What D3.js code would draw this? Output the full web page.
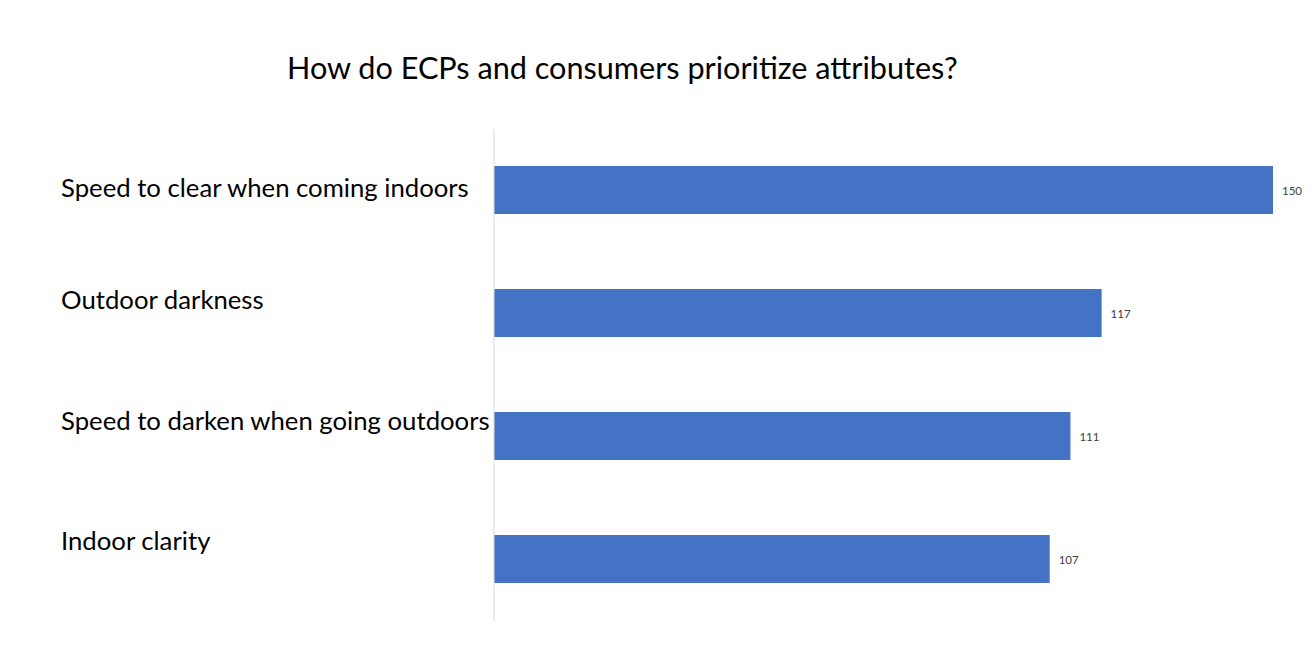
<!DOCTYPE html>
<html>
<head>
<meta charset="utf-8">
<script src="https://cdn.jsdelivr.net/npm/d3@7"></script>
<style>
  html, body { margin: 0; padding: 0; background: #ffffff; }
  svg { display: block; }
  text { font-family: Lato, "Open Sans", sans-serif; }
</style>
</head>
<body>
<svg id="chart" width="1314" height="650"></svg>
<script>
const titleText = "How do ECPs and consumers prioritize attributes?";
const categories = [
  "Speed to clear when coming indoors",
  "Outdoor darkness",
  "Speed to darken when going outdoors",
  "Indoor clarity"
];
const values = [150, 117, 111, 107];
const xDomain = [0, 150];

const svg = d3.select("#chart");
const W = 1314, H = 650;
svg.append("rect").attr("width", W).attr("height", H).attr("fill", "#ffffff");

const plot = { left: 494, right: 1273, top: 128.5, bottom: 620.5 };

const x = d3.scaleLinear().domain(xDomain).range([plot.left, plot.right]);
const y = d3.scaleBand().domain(categories).range([plot.top, plot.bottom])
  .paddingInner(0.61).paddingOuter(0.305);

function fitText(sel, targetWidth, startSize) {
  sel.attr("font-size", startSize);
  const w = sel.node().getComputedTextLength();
  const s = startSize * targetWidth / w;
  sel.attr("font-size", s);
  return s;
}

// title
const title = svg.append("text")
  .attr("x", 287).attr("y", 79)
  .attr("fill", "#000000")
  .text(titleText);
fitText(title, 671, 30);

// bars
svg.append("g").attr("class", "bars").selectAll("rect")
  .data(values)
  .join("rect")
  .attr("x", x(0))
  .attr("y", (d, i) => y(categories[i]))
  .attr("width", d => x(d) - x(0))
  .attr("height", y.bandwidth())
  .attr("fill", "#4472C4");

// vertical axis line
const yAxis = d3.axisLeft(y).tickSize(0).tickFormat("");
const gAxis = svg.append("g").attr("transform", `translate(${plot.left - 0.5},0)`).call(yAxis);
gAxis.select(".domain").attr("stroke", "#d9d9d9").attr("stroke-width", 1);
gAxis.selectAll(".tick").remove();

// category labels (left-aligned)
const labelDy = [7, -4, -6, -9];
const catLabels = svg.append("g").attr("class", "cat-labels").selectAll("text")
  .data(categories)
  .join("text")
  .attr("x", 61)
  .attr("y", (d, i) => y(d) + y.bandwidth() / 2 + labelDy[i])
  .attr("fill", "#000000")
  .text(d => d);
const labelSize = fitText(d3.select(catLabels.nodes()[0]), 408, 24);
catLabels.attr("font-size", labelSize);

// data labels
svg.append("g").attr("class", "data-labels").selectAll("text")
  .data(values)
  .join("text")
  .attr("x", d => x(d) + 9)
  .attr("y", (d, i) => y(categories[i]) + y.bandwidth() / 2 + 5)
  .attr("fill", "#404040")
  .attr("font-size", 11.5)
  .text(d => d);
</script>
</body>
</html>
